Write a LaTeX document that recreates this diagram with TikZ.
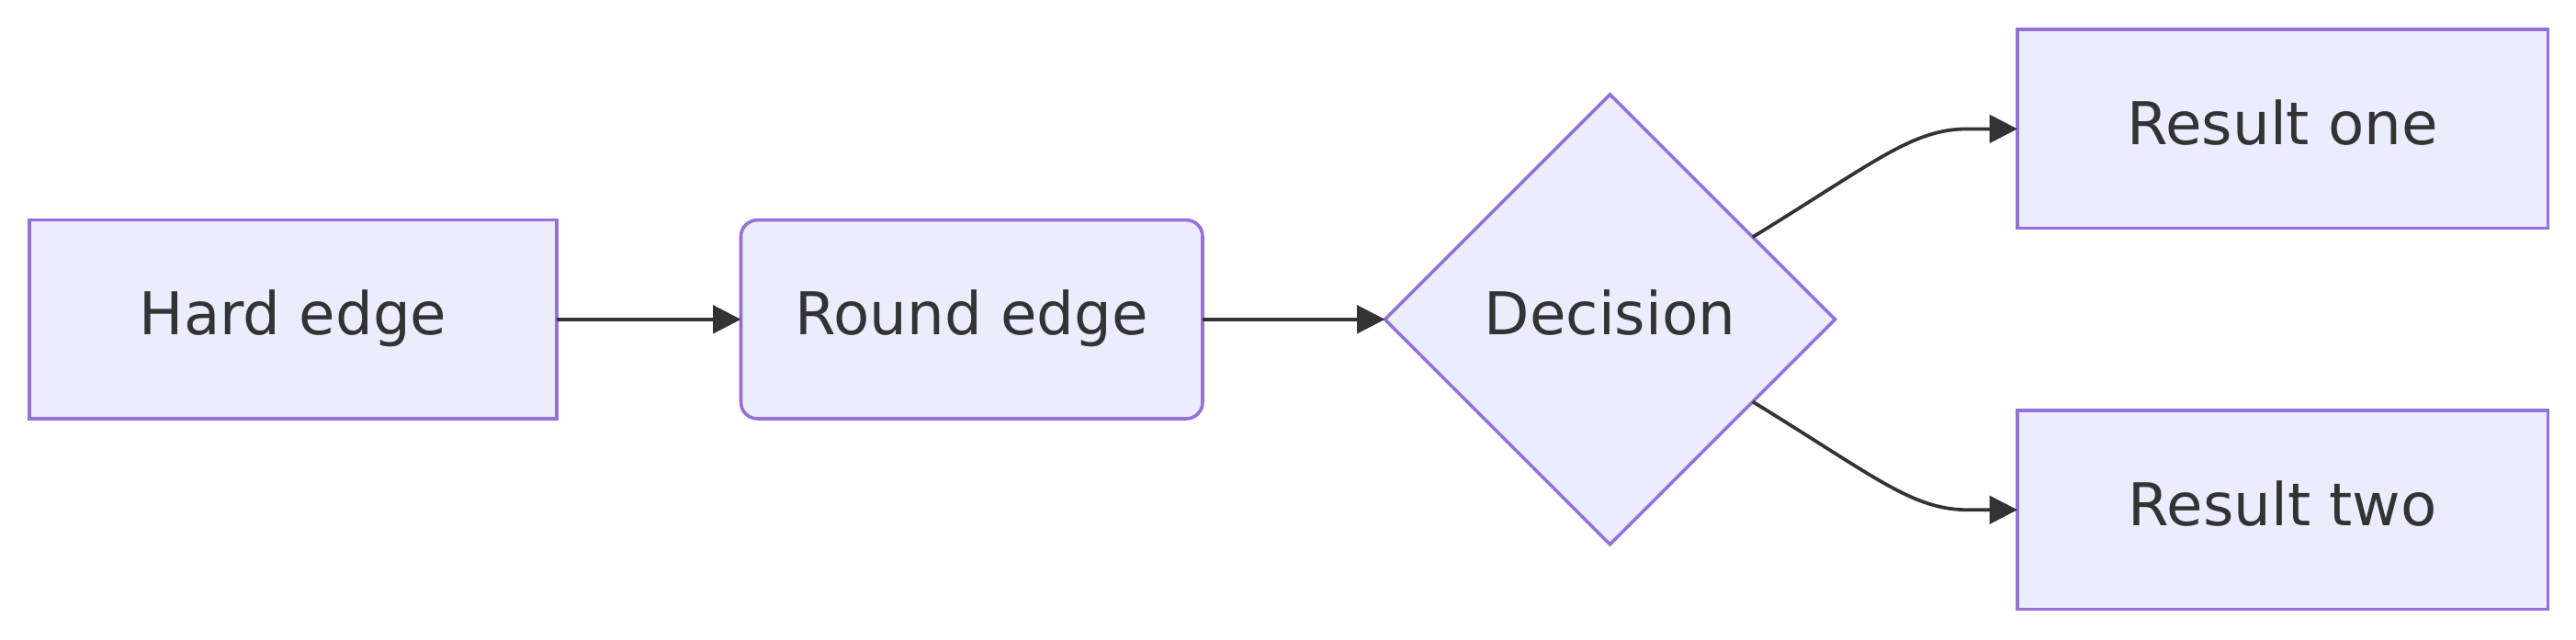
\documentclass[tikz,border=0pt]{standalone}
\usepackage{fontspec}
\setmainfont{DejaVu Sans}
\usetikzlibrary{positioning,shapes.geometric,arrows.meta}
\definecolor{nodefill}{HTML}{ECECFF}
\definecolor{nodeline}{HTML}{9370DB}
\definecolor{edgeline}{HTML}{333333}

\begin{document}
\begin{tikzpicture}[x=1pt,y=1pt,
	nstyle/.style={rectangle, fill=nodefill, draw=nodeline, line width=2pt,
	minimum width=321pt, minimum height=121pt, inner sep=0pt, outer sep=0pt,
	text=edgeline, font=\fontsize{35.9}{43}\selectfont,
	text height=27.3pt, text depth=8.5pt},
	rstyle/.style={nstyle, minimum width=281pt, rounded corners=10pt},
	dstyle/.style={nstyle, diamond, aspect=1, minimum width=274pt, minimum height=274pt},
	estyle/.style={-{Triangle[length=17pt,width=17pt]}, line width=2.1pt, draw=edgeline}
	]
	\useasboundingbox (0,0) rectangle (1568,389.2);
	\node[nstyle] (hard) at (178.5,194.7) {Hard edge};
	\node[rstyle] (round) [right=112pt of hard] {Round edge};
	\node[dstyle] (dec) [right=111pt of round] {Decision};
	\node[nstyle, minimum width=323pt] (one) [right=111pt of dec.east, yshift=116pt] {Result one};
	\node[nstyle, minimum width=323pt] (two) [right=111pt of dec.east, yshift=-116pt] {Result two};
	
	\draw[estyle] (dec.30) .. controls +(75,46) and +(-34,0) .. ([xshift=-30pt]one.west) -- (one.west);
	\draw[estyle] (dec.-30) .. controls +(75,-46) and +(-34,0) .. ([xshift=-30pt]two.west) -- (two.west);
	\draw[estyle] (hard.east) -- (round.west);
	\draw[estyle] (round.east) -- (dec.west);
\end{tikzpicture}
\end{document}
